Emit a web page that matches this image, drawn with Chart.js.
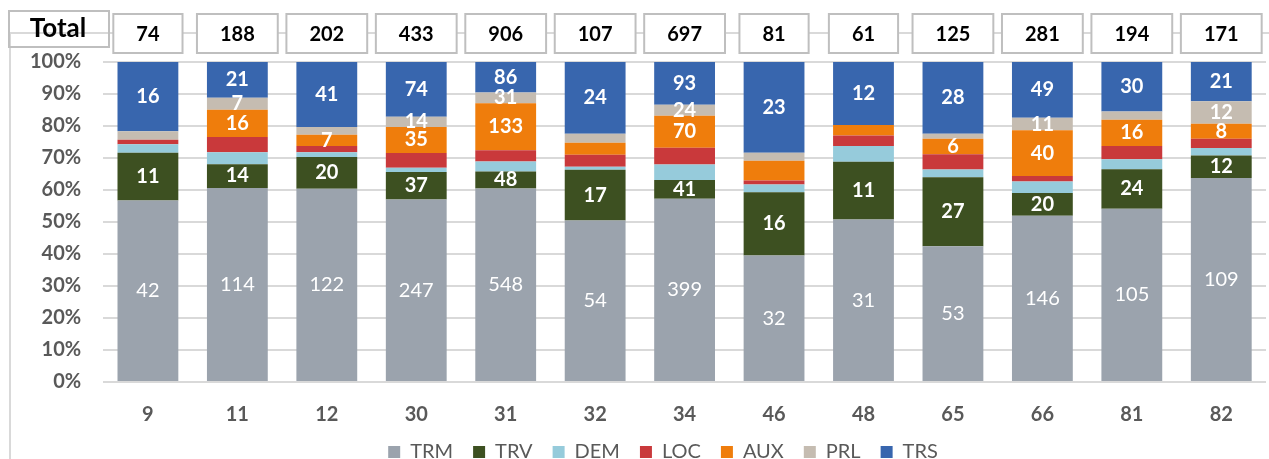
<!DOCTYPE html>
<html>
<head>
<title>Stacked 100% bars with totals</title>
<script src="https://cdn.jsdelivr.net/npm/chart.js"></script>
<style>
  html, body { margin: 0; padding: 0; background: #fff; }
  #wrap { width: 1269px; height: 459px; position: relative; }
</style>
</head>
<body>
<div id="wrap"><canvas id="myChart"></canvas></div>
<script>
// categories and totals
var categories = ['9', '11', '12', '30', '31', '32', '34', '46', '48', '65', '66', '81', '82'];
var totals = [74, 188, 202, 433, 906, 107, 697, 81, 61, 125, 281, 194, 171];

// counts per series (bottom to top)
var trm = [42, 114, 122, 247, 548, 54, 399, 32, 31, 53, 146, 105, 109];
var trv = [11, 14, 20, 37, 48, 17, 41, 16, 11, 27, 20, 24, 12];
var dem = [2, 7, 3, 6, 28, 1, 34, 2, 3, 3, 10, 6, 4];
var loc = [1, 9, 4, 20, 32, 4, 36, 1, 2, 6, 5, 8, 5];
var aux = [0, 16, 7, 35, 133, 4, 70, 5, 2, 6, 40, 16, 8];
var prl = [2, 7, 5, 14, 31, 3, 24, 2, 0, 2, 11, 5, 12];
var trs = [16, 21, 41, 74, 86, 24, 93, 23, 12, 28, 49, 30, 21];

var yTickMin = 0, yTickMax = 100, yTickStep = 10;

var FONT = 'Lato, "Open Sans", sans-serif';

function pct(arr) {
  return arr.map(function (v, i) { return v / totals[i] * 100; });
}

function series(label, counts, color, labelled, labelWeight) {
  return {
    label: label,
    data: pct(counts),
    counts: counts,
    labelled: labelled,
    labelWeight: labelWeight,
    backgroundColor: color,
    borderColor: color,
    borderWidth: 0,
    barPercentage: 0.68,
    categoryPercentage: 1.0
  };
}

// white numbers inside the segments
var segmentLabels = {
  id: 'segmentLabels',
  afterDatasetsDraw: function (chart) {
    var c = chart.ctx;
    c.save();
    c.fillStyle = '#ffffff';
    c.textAlign = 'center';
    c.textBaseline = 'middle';
    chart.data.datasets.forEach(function (ds, i) {
      if (!ds.labelled) return;
      var meta = chart.getDatasetMeta(i);
      c.font = ds.labelWeight + ' 20px ' + FONT;
      meta.data.forEach(function (bar, j) {
        var n = ds.counts[j];
        if (n < 6) return;
        c.fillText(String(n), bar.x, (bar.y + bar.base) / 2);
      });
    });
    c.restore();
  }
};

// frame line, "Total" box and one box per category
var totalRow = {
  id: 'totalRow',
  afterLayout: function (chart) {
    // legend sits a bit right of centre in the original
    if (chart.legend) {
      chart.legend.left += 26;
      chart.legend.right += 26;
    }
  },
  beforeDraw: function (chart) {
    var c = chart.ctx;
    c.save();
    c.strokeStyle = '#d9d9d9';
    c.lineWidth = 2;
    c.beginPath();
    c.moveTo(8, 33);
    c.lineTo(chart.width, 33);
    c.moveTo(10, 33);
    c.lineTo(10, chart.height);
    c.stroke();
    c.restore();
  },
  afterDraw: function (chart) {
    var c = chart.ctx;
    var xs = chart.scales.x;
    c.save();
    c.lineWidth = 2;
    c.strokeStyle = '#bfbfbf';
    c.textAlign = 'center';
    c.textBaseline = 'middle';

    c.strokeRect(9, 11, 100, 36);
    c.fillStyle = '#000';
    c.font = 'bold 26px ' + FONT;
    c.fillText('Total', 58, 29);

    c.font = 'bold 20px ' + FONT;
    totals.forEach(function (t, j) {
      var x = xs.getPixelForValue(j);
      var w = c.measureText(String(t)).width + 46;
      var h = 39, y = 14;
      c.fillStyle = '#fff';
      c.fillRect(x - w / 2, y, w, h);
      c.strokeRect(x - w / 2, y, w, h);
      c.fillStyle = '#000';
      c.fillText(String(t), x, y + h / 2 + 1);
    });
    c.restore();
  }
};

var ctx = document.getElementById('myChart').getContext('2d');
var myChart = new Chart(ctx, {
  type: 'bar',
  data: {
    labels: categories,
    datasets: [
      series('TRM', trm, '#9ba3ad', true, 'normal'),
      series('TRV', trv, '#3d5021', true, 'bold'),
      series('DEM', dem, '#96cbdb', false, 'bold'),
      series('LOC', loc, '#c9393b', false, 'bold'),
      series('AUX', aux, '#ef7d0c', true, 'bold'),
      series('PRL', prl, '#c5bcb1', true, 'bold'),
      series('TRS', trs, '#3866ae', true, 'bold')
    ]
  },
  options: {
    responsive: true,
    maintainAspectRatio: false,
    animation: false,
    layout: { padding: { top: 62, left: 8, right: 3, bottom: -13 } },
    scales: {
      x: {
        stacked: true,
        grid: { display: false, drawTicks: false },
        border: { display: false },
        ticks: {
          color: '#595959',
          padding: 21,
          font: { family: FONT, size: 20, weight: 'bold' }
        },
        afterFit: function (axis) { axis.height -= 26; }
      },
      y: {
        stacked: true,
        min: yTickMin,
        max: yTickMax,
        grid: { color: '#d9d9d9', lineWidth: 2, drawTicks: false },
        border: { display: false },
        ticks: {
          stepSize: yTickStep,
          color: '#595959',
          padding: 22,
          font: { family: FONT, size: 20, weight: 'bold' },
          callback: function (v) { return v + '%'; }
        }
      }
    },
    plugins: {
      tooltip: { enabled: false },
      legend: {
        position: 'bottom',
        labels: {
          boxWidth: 12,
          boxHeight: 12,
          padding: 20,
          color: '#595959',
          font: { family: FONT, size: 20 }
        }
      }
    }
  },
  plugins: [segmentLabels, totalRow]
});
</script>
</body>
</html>
